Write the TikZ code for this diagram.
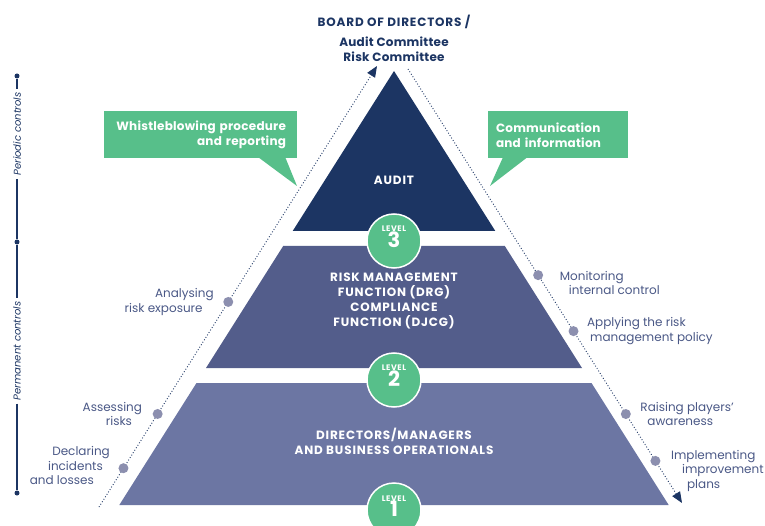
\documentclass[tikz,border=0pt]{standalone}
\usepackage{fontspec}
\setmainfont{Poppins}
\newfontfamily\tierfont{Poppins}[LetterSpace=7]
\newfontfamily\boardfont{Poppins}[LetterSpace=2]
\usetikzlibrary{arrows.meta,calc,positioning}
\definecolor{navy}{HTML}{1C3563}
\definecolor{leafgreen}{HTML}{57BF8A}
\definecolor{midslate}{HTML}{535D8B}
\definecolor{lowslate}{HTML}{6C76A3}
\definecolor{labelblue}{HTML}{4A5886}
\definecolor{dotgrey}{HTML}{8C8FAF}

\begin{document}
\begin{tikzpicture}[x=1pt,y=-1pt,
    tier/.style={text=white,font=\tierfont\bfseries\fontsize{12}{15}\selectfont,align=center},
    callout/.style={fill=leafgreen,text=white,font=\boardfont\bfseries\fontsize{12}{15}\selectfont,minimum height=47pt,inner xsep=11pt},
    levelring/.style={circle,fill=leafgreen,draw=white,line width=1.5pt,minimum size=54pt,inner sep=0pt},
    leveltext/.style={text=white,font=\tierfont\bfseries,align=center,inner sep=0pt},
    sidelbl/.style={text=labelblue,font=\fontsize{12}{14.5}\selectfont,inner sep=0pt},
    stepdot/.style={circle,fill=dotgrey,minimum size=10pt,inner sep=0pt},
    ctrldot/.style={circle,fill=navy,minimum size=5pt,inner sep=0pt},
    ctrl/.style={rotate=90,text=navy,font=\itshape\fontsize{10}{10}\selectfont,inner sep=3pt},
    flow/.style={navy,dotted,line width=0.9pt,-{Triangle[length=11pt,width=9pt]}}]
        % Page frame
        \clip (0,0) rectangle (765,526);
        % Define coordinates
        \coordinate (lbase) at (99,507);
        \coordinate (ltop) at (377,66);
        \coordinate (rtop) at (408,69);
        \coordinate (rbase) at (682,503);
        \coordinate (wtip) at (297,186);
        \coordinate (ctip) at (490,186);
        % Pyramid tiers
        \fill[navy] (394,71) -- (495.3,231) -- (292.7,231) -- cycle;
        \fill[midslate] (283.2,246) -- (504.8,246) -- (582,368) -- (206,368) -- cycle;
        \fill[lowslate] (196.5,383) -- (591.5,383) -- (668.7,505) -- (119.3,505) -- cycle;
        \node[tier] (audit) at (394,180) {AUDIT};
        \node[tier] (riskfn) at (394,301) {RISK MANAGEMENT\\FUNCTION (DRG)\\COMPLIANCE\\FUNCTION (DJCG)};
        \node[tier] (ops) at (394,441.5) {DIRECTORS/MANAGERS\\AND BUSINESS OPERATIONALS};
        % Level badges
        \foreach \n/\y in {3/241,2/380,1/510} {
            \node[levelring] (lv\n) at (394,\y) {};
            \node[leveltext,yshift=4pt] (lv\n txt) at (lv\n) {{\fontsize{8}{8}\selectfont LEVEL}\\[-1pt]{\fontsize{21}{21}\selectfont \n}};
        }
        % Board
        \node[text=navy,font=\boardfont\bfseries\fontsize{12}{15}\selectfont,align=center] (board) at (394,38) {{\tierfont\bfseries BOARD OF DIRECTORS /}\\[5pt]Audit Committee\\Risk Committee};
        % Callouts
        \node[callout,minimum width=193pt,text width=171pt,align=right] (whistle) at (200.5,134.5) {Whistleblowing procedure\\and reporting};
        \fill[leafgreen] ([xshift=-39pt,yshift=1pt]whistle.south east) -- ([xshift=-12pt,yshift=1pt]whistle.south east) -- (wtip) -- cycle;
        \node[callout,minimum width=140pt,text width=124pt,inner xsep=8pt,align=left] (commu) at (558,135) {Communication\\and information};
        \fill[leafgreen] ([xshift=15pt,yshift=1pt]commu.south west) -- ([xshift=39pt,yshift=1pt]commu.south west) -- (ctip) -- cycle;
        % Dotted flows with steps
        \draw[flow] (lbase) -- (ltop)
            node[stepdot,pos=0.088] (declare) {}
            node[stepdot,pos=0.211] (assess) {}
            node[stepdot,pos=0.465] (analyse) {};
        \draw[flow] (rtop) -- (rbase)
            node[stepdot,pos=0.475] (monitor) {}
            node[stepdot,pos=0.604] (apply) {}
            node[stepdot,pos=0.795] (raise) {}
            node[stepdot,pos=0.903] (implement) {};
        % Step labels
        \node[sidelbl,left=9pt of analyse,align=right] (analyselbl) {Analysing\\risk exposure\kern11pt};
        \node[sidelbl,left=10pt of assess,align=right] (assesslbl) {Assessing\\risks\kern10pt};
        \node[sidelbl,left=8pt of declare,yshift=2.5pt,align=right] (declarelbl) {Declaring\\incidents\kern7pt\\and losses\kern16pt};
        \node[sidelbl,right=16pt of monitor,yshift=-8pt,align=left] (monitorlbl) {Monitoring\\\kern9pt internal control};
        \node[sidelbl,right=8pt of apply,align=left] (applylbl) {Applying the risk\\\kern3pt management policy};
        \node[sidelbl,right=9pt of raise,align=left] (raiselbl) {Raising players'\\\kern7pt awareness};
        \node[sidelbl,right=10pt of implement,yshift=-10pt,align=left] (implementlbl) {Implementing\\\kern11pt improvement\\\kern16pt plans};
        % Control bar
        \node[ctrldot] (ctop) at (17,76) {};
        \node[ctrl] (periodic) at (17,134) {Periodic controls};
        \node[ctrldot] (cmid) at (17,242) {};
        \node[ctrl] (permanent) at (17,351) {Permanent controls};
        \node[ctrldot] (cbot) at (17,493) {};
        \draw[navy,line width=1.8pt] (ctop) -- (periodic) -- (cmid) -- (permanent) -- (cbot);
\end{tikzpicture}
\end{document}
